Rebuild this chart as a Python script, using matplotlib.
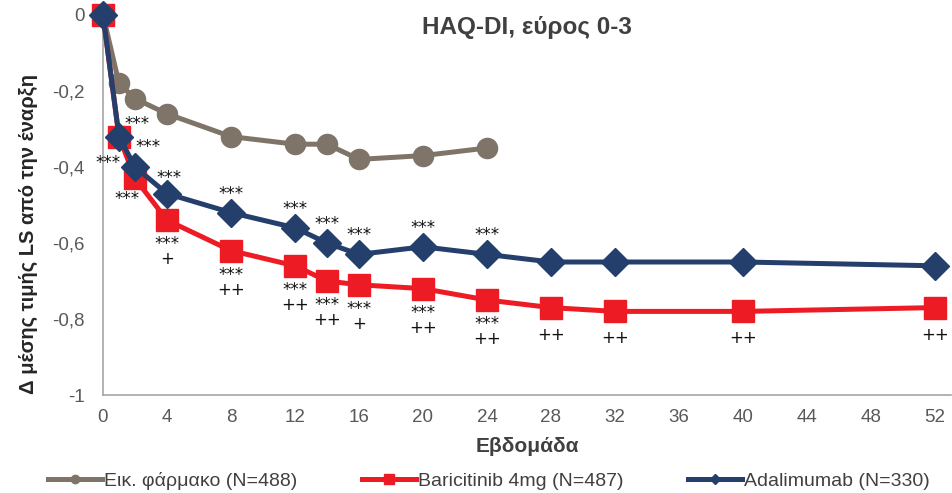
import matplotlib.pyplot as plt
from matplotlib.lines import Line2D
from matplotlib.ticker import FuncFormatter

# Change from baseline in HAQ-DI by week
weeks_pbo = [0, 1, 2, 4, 8, 12, 14, 16, 20, 24]
pbo = [0, -0.18, -0.22, -0.26, -0.32, -0.34, -0.34, -0.38, -0.37, -0.35]

weeks_act = [0, 1, 2, 4, 8, 12, 14, 16, 20, 24, 28, 32, 40, 52]
bari = [0, -0.32, -0.43, -0.54, -0.62, -0.66, -0.70, -0.71, -0.72, -0.75, -0.77, -0.78, -0.78, -0.77]
ada = [0, -0.32, -0.40, -0.47, -0.52, -0.56, -0.60, -0.63, -0.61, -0.63, -0.65, -0.65, -0.65, -0.66]

# significance markers (vs placebo: ***, vs adalimumab: +)
bari_vs_pbo = ['', '***', '***', '***', '***', '***', '***', '***', '***', '***', '', '', '', '']
bari_vs_ada = ['', '', '', '+', '++', '++', '++', '+', '++', '++', '++', '++', '++', '++']
ada_vs_pbo = ['', '***', '***', '***', '***', '***', '***', '***', '***', '***', '', '', '', '']

labels = ['Εικ. φάρμακο (N=488)', 'Baricitinib 4mg (N=487)', 'Adalimumab (N=330)']
c_pbo, c_bari, c_ada = '#7f7468', '#ed1c24', '#243f6b'

plt.rcParams['font.family'] = ['Liberation Sans', 'DejaVu Sans']

fig = plt.figure(figsize=(9.53, 4.93), dpi=100)
ax = fig.add_axes([103 / 953, 1 - 395 / 493, (951 - 103) / 953, 380 / 493])

ax.plot(weeks_pbo, pbo, color=c_pbo, lw=3.6, marker='o', ms=14.5, clip_on=False, zorder=3)
ax.plot(weeks_act, bari, color=c_bari, lw=3.6, marker='s', ms=16, clip_on=False, zorder=4)
ax.plot(weeks_act, ada, color=c_ada, lw=3.6, marker='D', ms=14.5, clip_on=False, zorder=5)

PX = 0.72  # pixels -> points at 100 dpi


def note(txt, w, v, dx, dy, va):
    ax.annotate(txt, (w, v), xytext=(dx * PX, dy * PX), textcoords='offset points',
                ha='center', va=va, fontsize=12, color='#111111', linespacing=0.8,
                family='DejaVu Sans', zorder=6)


# stars above adalimumab
ada_shift = {1: (18, 8), 2: (13, 15), 4: (2, 11)}
for i, (w, v) in enumerate(zip(weeks_act, ada)):
    if ada_vs_pbo[i]:
        dx, dy = ada_shift.get(w, (0, 14))
        note(ada_vs_pbo[i], w, v, dx, dy, 'baseline')

# stars and pluses below baricitinib
bari_shift = {1: (-11, -17), 2: (-8, -12)}
for i, (w, v) in enumerate(zip(weeks_act, bari)):
    dx, dy = bari_shift.get(w, (0, -15))
    if bari_vs_pbo[i]:
        txt = bari_vs_pbo[i] + ('\n' + bari_vs_ada[i] if bari_vs_ada[i] else '')
        note(txt, w, v, dx, dy, 'top')
    elif bari_vs_ada[i]:
        note(bari_vs_ada[i], w, v, dx, -32, 'baseline')

ax.set_xlim(0, 53)
ax.set_ylim(-1, 0)
ax.set_xticks(range(0, 53, 4))
ax.set_yticks([0, -0.2, -0.4, -0.6, -0.8, -1])
ax.yaxis.set_major_formatter(FuncFormatter(lambda y, _: ('%g' % y).replace('.', ',')))
ax.tick_params(length=0, labelsize=13.5, labelcolor='#595959')
ax.tick_params(axis='y', pad=13)
ax.tick_params(axis='x', pad=10)

for s in ['top', 'right']:
    ax.spines[s].set_visible(False)
for s in ['left', 'bottom']:
    ax.spines[s].set_color('#a6a6a6')
    ax.spines[s].set_linewidth(1.2)

ax.text(0.5, 0.968, 'HAQ-DI, εύρος 0-3', transform=ax.transAxes, ha='center', va='center',
        fontsize=17.5, fontweight='bold', color='#404040')
ax.set_xlabel('Εβδομάδα', fontsize=15, fontweight='bold', color='#404040', labelpad=8)
fig.text(28 / 953, 1 - 234 / 493, 'Δ μέσης τιμής LS από την έναρξη', rotation=90,
         ha='center', va='center', fontsize=14.5, fontweight='bold', color='#262626')

handles = [Line2D([], [], color=c_pbo, lw=3.6, marker='o', ms=6),
           Line2D([], [], color=c_bari, lw=3.6, marker='s', ms=7),
           Line2D([], [], color=c_ada, lw=3.6, marker='D', ms=5)]
fig.legend(handles, labels, loc='center', bbox_to_anchor=(0.513, 1 - 481 / 493), ncol=3,
           frameon=False, fontsize=14, handlelength=2.8, handletextpad=0.1,
           columnspacing=3.3, labelcolor='#404040')

fig.savefig('out.png', dpi=100)
